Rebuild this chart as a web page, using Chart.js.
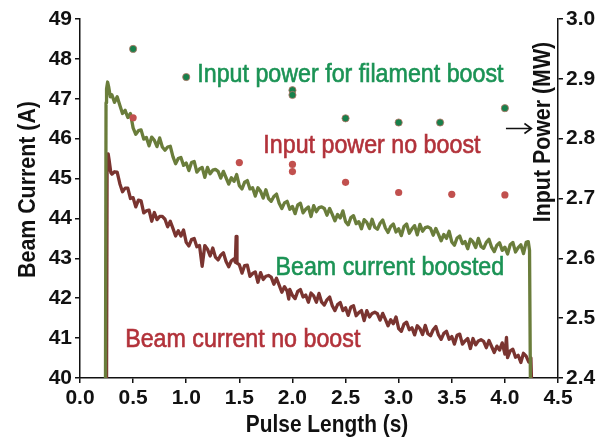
<!DOCTYPE html>
<html lang="en">
<head>
<meta charset="UTF-8">
<title>Beam Current vs Pulse Length</title>
<script src="https://cdn.jsdelivr.net/npm/chart.js"></script>
<style>
  html, body { margin: 0; padding: 0; background: #fff; }
  #wrap { width: 608px; height: 445px; }
</style>
</head>
<body>
<div id="wrap"><canvas id="beam-chart" width="608" height="445"></canvas></div>
<script>
// axis ticks
const timeTicks = [0.0, 0.5, 1.0, 1.5, 2.0, 2.5, 3.0, 3.5, 4.0, 4.5];
const currentTicks = [40, 41, 42, 43, 44, 45, 46, 47, 48, 49];
const powerTicks = [2.4, 2.5, 2.6, 2.7, 2.8, 2.9, 3.0];

// beam current with filament boost (A)
const boostTime = [0.24, 0.245, 0.25, 0.26, 0.27, 0.285,
  0.300, 0.325, 0.350, 0.375, 0.400, 0.425, 0.450, 0.475, 0.500, 0.525,
  0.550, 0.575, 0.600, 0.625, 0.650, 0.675, 0.700, 0.725, 0.750, 0.775,
  0.800, 0.825, 0.850, 0.875, 0.900, 0.925, 0.950, 0.975, 1.000, 1.025,
  1.050, 1.075, 1.100, 1.125, 1.150, 1.175, 1.200, 1.225, 1.250, 1.275,
  1.300, 1.325, 1.350, 1.375, 1.400, 1.425, 1.450, 1.475, 1.500, 1.525,
  1.550, 1.575, 1.600, 1.625, 1.650, 1.675, 1.700, 1.725, 1.750, 1.775,
  1.800, 1.825, 1.850, 1.875, 1.900, 1.925, 1.950, 1.975, 2.000, 2.025,
  2.050, 2.075, 2.100, 2.125, 2.150, 2.175, 2.200, 2.225, 2.250, 2.275,
  2.300, 2.325, 2.350, 2.375, 2.400, 2.425, 2.450, 2.475, 2.500, 2.525,
  2.550, 2.575, 2.600, 2.625, 2.650, 2.675, 2.700, 2.725, 2.750, 2.775,
  2.800, 2.825, 2.850, 2.875, 2.900, 2.925, 2.950, 2.975, 3.000, 3.025,
  3.050, 3.075, 3.100, 3.125, 3.150, 3.175, 3.200, 3.225, 3.250, 3.275,
  3.300, 3.325, 3.350, 3.375, 3.400, 3.425, 3.450, 3.475, 3.500, 3.525,
  3.550, 3.575, 3.600, 3.625, 3.650, 3.675, 3.700, 3.725, 3.750, 3.775,
  3.800, 3.825, 3.850, 3.875, 3.900, 3.925, 3.950, 3.975, 4.000, 4.025,
  4.050, 4.075, 4.100, 4.125, 4.150, 4.175, 4.200,
  4.220, 4.232, 4.240];
const boostCurrent = [40.0, 46.9, 47.25, 47.42, 47.3, 47.05,
  47.10, 46.91, 47.05, 46.84, 46.63, 46.71, 46.53, 46.63, 46.27, 46.11,
  46.20, 46.22, 45.99, 46.03, 45.82, 46.04, 45.96, 45.80, 46.02, 45.79,
  45.71, 45.79, 45.81, 45.55, 45.37, 45.50, 45.53, 45.33, 45.39, 45.20,
  45.40, 45.43, 45.16, 45.24, 45.28, 45.03, 45.28, 45.12, 45.21, 45.23,
  45.18, 45.01, 45.18, 45.02, 44.86, 45.02, 44.93, 45.10, 44.82, 44.74,
  44.91, 44.95, 44.74, 44.77, 44.56, 44.77, 44.68, 44.51, 44.72, 44.50,
  44.43, 44.55, 44.61, 44.38, 44.25, 44.39, 44.43, 44.23, 44.30, 44.12,
  44.34, 44.38, 44.14, 44.23, 44.29, 44.05, 44.32, 44.17, 44.27, 44.29,
  44.25, 44.08, 44.25, 44.10, 43.94, 44.10, 44.01, 44.19, 43.92, 43.84,
  44.02, 44.07, 43.87, 43.92, 43.74, 43.97, 43.90, 43.75, 43.98, 43.78,
  43.73, 43.88, 43.96, 43.76, 43.65, 43.80, 43.86, 43.66, 43.74, 43.57,
  43.80, 43.86, 43.63, 43.74, 43.82, 43.59, 43.85, 43.68, 43.77, 43.79,
  43.75, 43.58, 43.75, 43.60, 43.44, 43.60, 43.50, 43.68, 43.41, 43.33,
  43.51, 43.56, 43.37, 43.42, 43.24, 43.48, 43.41, 43.27, 43.50, 43.30,
  43.25, 43.40, 43.48, 43.28, 43.17, 43.33, 43.39, 43.20, 43.28, 43.11,
  43.34, 43.40, 43.16, 43.27, 43.34, 43.12, 43.40,
  43.42, 43.2, 40.0];

// beam current without boost (A)
const plainTime = [0.25, 0.255, 0.26, 0.265, 0.275, 0.29,
  0.300, 0.325, 0.350, 0.375, 0.400, 0.425, 0.450, 0.475, 0.500, 0.525,
  0.550, 0.575, 0.600, 0.625, 0.650, 0.675, 0.700, 0.725, 0.750, 0.775,
  0.800, 0.825, 0.850, 0.875, 0.900, 0.925, 0.950, 0.975,
  1.000, 1.025, 1.050, 1.075, 1.100, 1.125, 1.150, 1.175, 1.200, 1.225,
  1.250, 1.275, 1.300, 1.325, 1.350, 1.375, 1.400, 1.425, 1.450,
  1.462, 1.470, 1.478,
  1.500, 1.525, 1.550, 1.575, 1.600, 1.625, 1.650, 1.675, 1.700, 1.725,
  1.750, 1.775, 1.800, 1.825, 1.850, 1.875, 1.900, 1.925, 1.950,
  1.965,
  1.975,
  2.000, 2.025, 2.050, 2.075, 2.100, 2.125, 2.150, 2.175, 2.200, 2.225,
  2.250, 2.275, 2.300, 2.325, 2.350, 2.375, 2.400, 2.425, 2.450, 2.475,
  2.500, 2.525, 2.550, 2.575, 2.600, 2.625, 2.650, 2.675, 2.700, 2.725,
  2.750, 2.775, 2.800, 2.825, 2.850, 2.875, 2.900, 2.925, 2.950, 2.975,
  3.000, 3.025, 3.050, 3.075, 3.100, 3.125, 3.150, 3.175, 3.200, 3.225,
  3.250, 3.275, 3.300, 3.325, 3.350, 3.375, 3.400, 3.425, 3.450, 3.475,
  3.500, 3.525, 3.550, 3.575, 3.600, 3.625, 3.650, 3.675, 3.700, 3.725,
  3.750, 3.775, 3.800, 3.825, 3.850, 3.875, 3.900, 3.925, 3.950, 3.975,
  4.000,
  4.015,
  4.025, 4.050, 4.075, 4.100, 4.125, 4.150, 4.175, 4.200, 4.225,
  4.245, 4.250];
const plainCurrent = [40.0, 45.2, 45.55, 45.62, 45.45, 45.15,
  45.11, 45.17, 45.16, 44.87, 44.67, 44.76, 44.76, 44.50, 44.52, 44.29,
  44.46, 44.44, 44.14, 44.19, 44.21, 43.93, 44.15, 43.97, 44.05, 44.05,
  43.98, 43.79, 43.93, 43.75, 43.56, 43.69, 43.56, 43.71,
  43.40, 43.31, 43.47, 43.50, 43.29, 43.32, 42.80, 43.32, 43.23, 43.06,
  43.26, 43.03, 42.96, 43.08, 43.14, 42.92, 42.79, 42.94, 42.99,
  42.90, 43.55, 42.88,
  42.84, 42.63, 42.82, 42.83, 42.55, 42.62, 42.66, 42.40, 42.64, 42.47,
  42.55, 42.57, 42.53, 42.35, 42.50, 42.33, 42.15, 42.29, 42.18,
  41.98,
  42.22,
  42.07, 41.99, 42.17, 42.22, 42.03, 42.08, 41.90, 42.13, 42.06, 41.90,
  42.12, 41.90, 41.83, 41.96, 42.03, 41.81, 41.69, 41.84, 41.89, 41.69,
  41.76, 41.57, 41.78, 41.81, 41.56, 41.64, 41.69, 41.44, 41.69, 41.53,
  41.62, 41.65, 41.61, 41.45, 41.62, 41.47, 41.31, 41.46, 41.36, 41.53,
  41.24, 41.17, 41.35, 41.40, 41.21, 41.26, 41.08, 41.31, 41.24, 41.09,
  41.32, 41.11, 41.06, 41.21, 41.29, 41.08, 40.97, 41.12, 41.17, 40.97,
  41.04, 40.85, 41.07, 41.10, 40.85, 40.93, 40.99, 40.74, 40.99, 40.83,
  40.93, 40.96, 40.92, 40.76, 40.94, 40.79, 40.64, 40.80, 40.70, 40.88,
  40.60,
  41.02,
  40.51, 40.68, 40.72, 40.52, 40.57, 40.39, 40.62, 40.55, 40.40,
  40.5, 40.0];

// input power (MW)
const boostPowerTime = [0.5, 1.0, 2.0, 2.0, 2.5, 3.0, 3.39, 4.0];
const boostPower = [2.95, 2.903, 2.881, 2.873, 2.834, 2.827, 2.827, 2.851];
const plainPowerTime = [0.5, 1.5, 2.0, 2.0, 2.5, 3.0, 3.5, 4.0];
const plainPower = [2.835, 2.76, 2.757, 2.745, 2.727, 2.71, 2.707, 2.706];

const GREEN_TEXT = '#1b9355';
const RED_TEXT = '#b2323a';
const FONT = "'Liberation Sans', Arial, sans-serif";

// text labels placed in data coordinates (left axis)
const notes = [
    { text: 'Input power for filament boost', x: 1.104, y: 47.42, color: GREEN_TEXT },
    { text: 'Input power no boost', x: 1.726, y: 45.64, color: RED_TEXT },
    { text: 'Beam current boosted', x: 1.84, y: 42.58, color: GREEN_TEXT },
    { text: 'Beam current no boost', x: 0.425, y: 40.78, color: RED_TEXT }
];

function pairs(xs, ys) {
    return xs.map((x, i) => ({ x: x, y: ys[i] }));
}

function drawText(ctx, text, x, y, opts) {
    ctx.save();
    ctx.translate(x, y);
    if (opts.rotate) ctx.rotate(opts.rotate);
    ctx.scale(opts.scaleX || 1, 1);
    ctx.font = opts.font;
    ctx.fillStyle = opts.color;
    ctx.textAlign = opts.align || 'left';
    ctx.textBaseline = opts.baseline || 'alphabetic';
    ctx.fillText(text, 0, 0);
    if (opts.thick) {
        ctx.strokeStyle = opts.color;
        ctx.lineWidth = opts.thick;
        ctx.strokeText(text, 0, 0);
    }
    ctx.restore();
}

const annotations = {
    id: 'annotations',
    afterDraw(chart) {
        const ctx = chart.ctx;
        const xs = chart.scales.x;
        const yl = chart.scales.yCurrent;
        const yr = chart.scales.yPower;
        const area = chart.chartArea;

        notes.forEach(n => {
            drawText(ctx, n.text, xs.getPixelForValue(n.x), yl.getPixelForValue(n.y),
                { font: '25px ' + FONT, color: n.color, scaleX: 0.93, thick: 0.6 });
        });

        // arrow pointing at the power axis
        const ay = yr.getPixelForValue(2.817);
        const ax0 = xs.getPixelForValue(4.01);
        const ax1 = xs.getPixelForValue(4.25);
        ctx.save();
        ctx.strokeStyle = '#111';
        ctx.lineWidth = 1.6;
        ctx.beginPath();
        ctx.moveTo(ax0, ay);
        ctx.lineTo(ax1, ay);
        ctx.moveTo(ax1 - 7, ay - 5);
        ctx.lineTo(ax1, ay);
        ctx.lineTo(ax1 - 7, ay + 5);
        ctx.stroke();
        ctx.restore();

        // axis titles
        const titleFont = 'bold 24px ' + FONT;
        drawText(ctx, 'Pulse Length (s)', (area.left + area.right) / 2 + 8, 425,
            { font: titleFont, color: '#111', scaleX: 0.87, align: 'center', baseline: 'middle' });
        drawText(ctx, 'Beam Current (A)', 28, (area.top + area.bottom) / 2 - 9,
            { font: titleFont, color: '#111', scaleX: 0.89, align: 'center', baseline: 'middle', rotate: -Math.PI / 2 });
        drawText(ctx, 'Input Power (MW)', area.right - 15, area.top + 113,
            { font: titleFont, color: '#111', scaleX: 0.89, align: 'center', baseline: 'middle', rotate: -Math.PI / 2 });
    }
};

function fixedTicks(values) {
    return scale => { scale.ticks = values.map(v => ({ value: v })); };
}

const axisGrid = { drawOnChartArea: false, drawTicks: true, tickLength: 5, color: '#111', lineWidth: 1.5 };
const axisBorder = { display: true, color: '#111', width: 1.5 };
const tickFont = { family: FONT, size: 21, weight: 'bold' };

new Chart(document.getElementById('beam-chart'), {
    type: 'scatter',
    data: {
        datasets: [
            {
                label: 'Input power for filament boost',
                data: pairs(boostPowerTime, boostPower),
                yAxisID: 'yPower',
                pointRadius: 3.6,
                pointBackgroundColor: '#17804b',
                pointBorderColor: '#b77466',
                pointBorderWidth: 0.8
            },
            {
                label: 'Input power no boost',
                data: pairs(plainPowerTime, plainPower),
                yAxisID: 'yPower',
                pointRadius: 3.6,
                pointBackgroundColor: '#c1504e',
                pointBorderColor: '#c1504e',
                pointBorderWidth: 0
            },
            {
                label: 'Beam current boosted',
                data: pairs(boostTime, boostCurrent),
                yAxisID: 'yCurrent',
                showLine: true,
                borderColor: '#6a7d3b',
                borderWidth: 3.3,
                borderJoinStyle: 'round',
                pointRadius: 0,
                tension: 0
            },
            {
                label: 'Beam current no boost',
                data: pairs(plainTime, plainCurrent),
                yAxisID: 'yCurrent',
                showLine: true,
                borderColor: '#7a3430',
                borderWidth: 3.3,
                borderJoinStyle: 'round',
                pointRadius: 0,
                tension: 0
            }
        ]
    },
    options: {
        responsive: false,
        animation: false,
        layout: { padding: { top: 19, left: 0, right: 0, bottom: 0 } },
        plugins: {
            legend: { display: false },
            tooltip: { enabled: false }
        },
        scales: {
            x: {
                type: 'linear',
                min: 0,
                max: 4.5,
                afterBuildTicks: fixedTicks(timeTicks),
                afterFit: s => { s.height = 67; },
                ticks: { font: tickFont, color: '#111', padding: 3, maxRotation: 0, callback: v => v.toFixed(1) },
                grid: axisGrid,
                border: axisBorder
            },
            yCurrent: {
                type: 'linear',
                position: 'left',
                min: 40,
                max: 49,
                afterBuildTicks: fixedTicks(currentTicks),
                afterFit: s => { s.width = 80; },
                ticks: { font: tickFont, color: '#111', padding: 3, callback: v => String(v) },
                grid: axisGrid,
                border: axisBorder
            },
            yPower: {
                type: 'linear',
                position: 'right',
                min: 2.4,
                max: 3.0,
                afterBuildTicks: fixedTicks(powerTicks),
                afterFit: s => { s.width = 50; },
                ticks: { font: tickFont, color: '#111', padding: 3, callback: v => v.toFixed(1) },
                grid: axisGrid,
                border: axisBorder
            }
        }
    },
    plugins: [annotations]
});
</script>
</body>
</html>
